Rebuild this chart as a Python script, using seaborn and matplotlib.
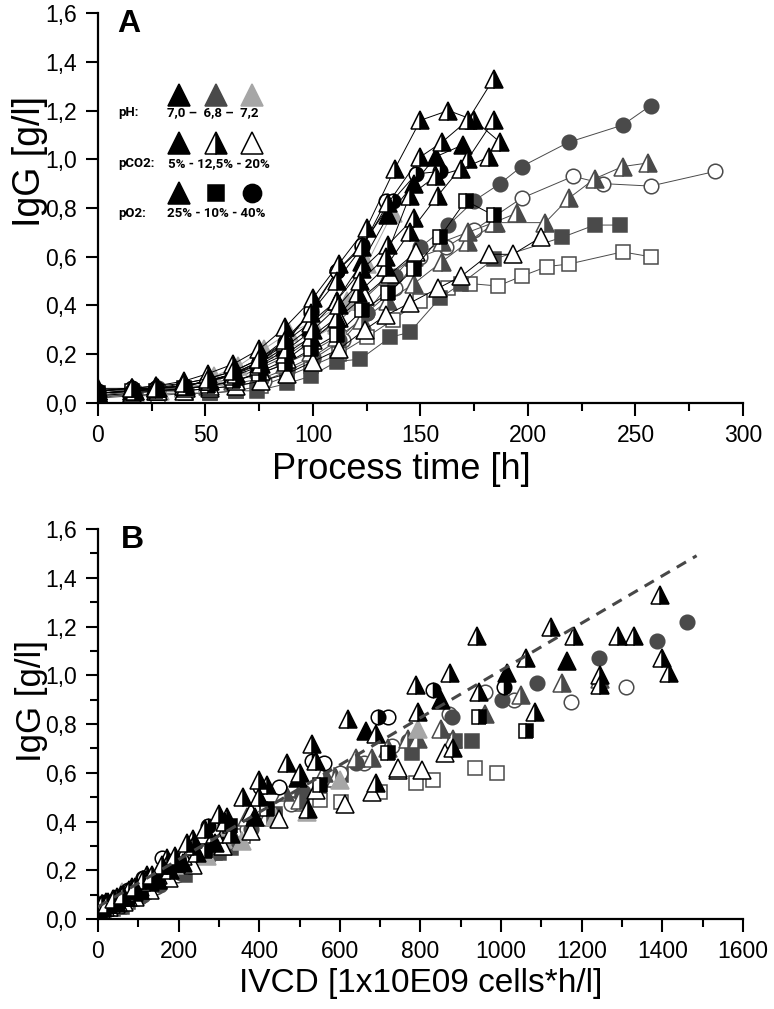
import matplotlib
matplotlib.use("Agg")
import matplotlib.pyplot as plt
from matplotlib.ticker import MultipleLocator, FuncFormatter, NullLocator
import seaborn as sns

# values
# time = process time [h], igg = IgG [g/l], ivcd = IVCD [1x10E09 cells*h/l]

# pH 7.0 / pCO2 12.5% / pO2 25% (center point replicates)
c1_time = [0, 16, 27, 40, 51, 63, 75, 87, 99, 111, 123, 135, 150, 160, 172, 184]
c1_igg = [0.05, 0.06, 0.06, 0.08, 0.10, 0.13, 0.18, 0.26, 0.37, 0.50, 0.64, 0.82, 1.01, 1.07, 1.16, 1.33]
c1_ivcd = [0, 10, 22, 40, 62, 92, 135, 190, 265, 360, 470, 620, 873, 1063, 1181, 1394]

c2_time = [0, 16, 27, 40, 51, 63, 75, 87, 100, 112, 125, 138, 150, 163, 175, 187]
c2_igg = [0.06, 0.06, 0.07, 0.09, 0.12, 0.16, 0.22, 0.31, 0.43, 0.57, 0.72, 0.96, 1.16, 1.20, 1.16, 1.07]
c2_ivcd = [0, 12, 26, 48, 76, 112, 160, 222, 300, 400, 530, 789, 939, 1125, 1291, 1398]

c3_time = [0, 17, 28, 41, 52, 64, 76, 88, 100, 112, 122, 134, 145, 157, 169, 182]
c3_igg = [0.04, 0.05, 0.06, 0.07, 0.09, 0.12, 0.16, 0.22, 0.30, 0.40, 0.50, 0.60, 0.85, 0.93, 0.96, 1.01]
c3_ivcd = [0, 9, 20, 36, 56, 84, 120, 170, 235, 315, 400, 500, 795, 946, 1245, 1417]

c4_time = [0, 16, 27, 40, 51, 63, 75, 87, 99, 111, 121, 134, 145, 158, 172, 184]
c4_igg = [0.05, 0.06, 0.06, 0.07, 0.09, 0.11, 0.15, 0.20, 0.27, 0.35, 0.45, 0.56, 0.70, 0.85, 1.00, 1.16]
c4_ivcd = [0, 10, 22, 40, 62, 90, 128, 178, 245, 330, 520, 690, 881, 1084, 1245, 1330]

c5_time = [0, 16, 27, 40, 51, 63, 75, 87, 99, 111, 123, 135, 147]
c5_igg = [0.05, 0.06, 0.07, 0.08, 0.10, 0.13, 0.18, 0.25, 0.33, 0.42, 0.55, 0.65, 0.76]
c5_ivcd = [0, 9, 20, 36, 56, 84, 122, 172, 235, 320, 420, 540, 690]

# pH 7.0 / 5% / 25%
f1_time = [0, 16, 27, 40, 51, 63, 75, 87, 99, 111, 123, 135, 147, 157, 170]
f1_igg = [0.05, 0.05, 0.06, 0.07, 0.09, 0.12, 0.16, 0.23, 0.31, 0.42, 0.58, 0.77, 0.90, 1.01, 1.06]
f1_ivcd = [0, 10, 24, 44, 70, 105, 150, 210, 290, 390, 497, 666, 850, 1014, 1163]

# pH 7.0 / 12.5% / 10%
hs_time = [0, 16, 27, 40, 51, 63, 75, 87, 99, 111, 123, 135, 147, 159, 171, 184]
hs_igg = [0.04, 0.05, 0.05, 0.06, 0.07, 0.09, 0.12, 0.16, 0.22, 0.28, 0.38, 0.45, 0.55, 0.68, 0.83, 0.77]
hs_ivcd = [0, 8, 18, 32, 50, 74, 106, 150, 200, 265, 328, 420, 551, 720, 946, 1063]

# pH 7.0 / 12.5% / 40%
hc_time = [0, 16, 27, 40, 51, 63, 75, 87, 99, 111, 123, 137, 148, 159]
hc_igg = [0.04, 0.05, 0.06, 0.07, 0.09, 0.12, 0.17, 0.24, 0.38, 0.54, 0.65, 0.83, 0.94, 0.95]
hc_ivcd = [0, 8, 18, 34, 54, 80, 114, 183, 274, 402, 530, 695, 832, 1007]

# pH 7.0 / 20% / 40%
oc7_time = [0, 16, 27, 40, 51, 63, 75, 87, 99, 111, 123, 134]
oc7_igg = [0.05, 0.06, 0.06, 0.07, 0.09, 0.12, 0.17, 0.25, 0.37, 0.54, 0.64, 0.83]
oc7_ivcd = [0, 8, 18, 32, 50, 75, 112, 160, 285, 450, 560, 720]

# pH 7.0 / 20% / 25%
ot1_time = [0, 16, 27, 40, 52, 64, 76, 88, 100, 112, 124, 134, 145, 158, 169, 182, 193, 206]
ot1_igg = [0.03, 0.04, 0.05, 0.05, 0.06, 0.07, 0.09, 0.12, 0.17, 0.22, 0.30, 0.36, 0.41, 0.47, 0.52, 0.61, 0.61, 0.68]
ot1_ivcd = [0, 7, 16, 28, 44, 64, 92, 128, 175, 235, 310, 380, 450, 613, 679, 745, 803, 861]

ot2_time = [0, 17, 28, 41, 52, 64, 76, 88, 100, 112, 124, 136, 148]
ot2_igg = [0.04, 0.05, 0.05, 0.06, 0.07, 0.09, 0.13, 0.18, 0.26, 0.35, 0.44, 0.53, 0.62]
ot2_ivcd = [0, 8, 18, 32, 50, 74, 105, 150, 210, 290, 380, 540, 745]

# pH 6.8 / 5% / 10%
sq_time = [0, 17, 28, 41, 52, 64, 74, 88, 99, 111, 122, 136, 145, 159, 169, 184, 216, 231, 243]
sq_igg = [0.03, 0.03, 0.04, 0.04, 0.04, 0.05, 0.05, 0.08, 0.11, 0.17, 0.18, 0.27, 0.29, 0.43, 0.49, 0.59, 0.68, 0.73, 0.73]
sq_ivcd = [0, 5, 12, 20, 30, 45, 60, 85, 115, 165, 215, 300, 330, 440, 505, 604, 780, 886, 929]

# pH 6.8 / 20% / 10%
osq_time = [0, 17, 28, 41, 52, 64, 76, 88, 99, 112, 125, 137, 150, 163, 173, 186, 197, 209, 219, 244, 257]
osq_igg = [0.02, 0.03, 0.03, 0.04, 0.04, 0.05, 0.07, 0.11, 0.15, 0.20, 0.27, 0.34, 0.42, 0.47, 0.49, 0.48, 0.52, 0.56, 0.57, 0.62, 0.60]
osq_ivcd = [0, 6, 14, 24, 36, 52, 75, 110, 150, 210, 290, 360, 440, 500, 551, 604, 700, 790, 832, 935, 989]

# pH 6.8 / 20% / 40%
oc_time = [0, 17, 28, 41, 52, 64, 77, 88, 100, 114, 125, 138, 150, 162, 175, 197, 221, 235, 257, 287]
oc_igg = [0.02, 0.04, 0.05, 0.05, 0.06, 0.07, 0.09, 0.13, 0.18, 0.26, 0.37, 0.47, 0.60, 0.64, 0.71, 0.84, 0.93, 0.90, 0.89, 0.95]
oc_ivcd = [0, 8, 18, 33, 52, 75, 105, 145, 195, 265, 370, 480, 600, 660, 730, 870, 960, 1033, 1173, 1309]

# pH 6.8 / 5% / 40%
ci_time = [0, 17, 28, 41, 52, 64, 76, 88, 100, 112, 125, 138, 150, 163, 175, 187, 197, 219, 244, 257]
ci_igg = [0.03, 0.05, 0.06, 0.06, 0.07, 0.08, 0.10, 0.14, 0.19, 0.26, 0.37, 0.52, 0.64, 0.73, 0.83, 0.90, 0.97, 1.07, 1.14, 1.22]
ci_ivcd = [0, 8, 18, 35, 55, 80, 112, 155, 205, 275, 380, 509, 640, 770, 877, 1001, 1088, 1243, 1386, 1460]

# pH 6.8 / 12.5% / 25%
ht_time = [0, 16, 27, 40, 51, 63, 75, 87, 99, 111, 123, 135, 147, 160, 172, 185, 208, 219, 231, 244, 256]
ht_igg = [0.03, 0.05, 0.05, 0.06, 0.07, 0.09, 0.12, 0.16, 0.21, 0.27, 0.34, 0.42, 0.49, 0.58, 0.66, 0.74, 0.74, 0.84, 0.92, 0.97, 0.985]
ht_ivcd = [0, 8, 18, 32, 50, 74, 105, 148, 200, 260, 335, 420, 500, 590, 680, 770, 880, 960, 1050, 1150, 1245]

ht2_time = [0, 16, 27, 40, 51, 63, 75, 87, 99, 111, 123, 135, 147, 160, 172, 184, 195]
ht2_igg = [0.04, 0.05, 0.06, 0.06, 0.08, 0.10, 0.14, 0.19, 0.26, 0.33, 0.42, 0.52, 0.60, 0.66, 0.70, 0.74, 0.78]
ht2_ivcd = [0, 8, 18, 33, 52, 78, 110, 155, 215, 285, 370, 465, 560, 640, 720, 795, 850]

# pH 7.2 / 5% / 25%
lg1_time = [0, 17, 29, 41, 54, 65, 77, 89, 100, 116, 125, 137]
lg1_igg = [0.03, 0.04, 0.05, 0.06, 0.11, 0.15, 0.22, 0.29, 0.33, 0.42, 0.57, 0.78]
lg1_ivcd = [0, 10, 22, 38, 60, 100, 160, 245, 310, 440, 600, 795]

lg2_time = [0, 16, 27, 40, 51, 63, 75, 87, 99, 111, 123]
lg2_igg = [0.03, 0.04, 0.05, 0.06, 0.08, 0.12, 0.17, 0.22, 0.26, 0.32, 0.44]
lg2_ivcd = [0, 9, 20, 35, 55, 85, 125, 200, 270, 357, 518]

# dashed linear fit in panel B
fit_intercept = 0.05
fit_slope = 0.00097
fit_ivcd = [0, 1485]

# (pH, pCO2, pO2, time, igg, ivcd)
runs = [
    ("6.8", "20", "10", osq_time, osq_igg, osq_ivcd),
    ("6.8", "5", "10", sq_time, sq_igg, sq_ivcd),
    ("6.8", "20", "40", oc_time, oc_igg, oc_ivcd),
    ("6.8", "5", "40", ci_time, ci_igg, ci_ivcd),
    ("6.8", "12.5", "25", ht_time, ht_igg, ht_ivcd),
    ("6.8", "12.5", "25", ht2_time, ht2_igg, ht2_ivcd),
    ("7.2", "5", "25", lg1_time, lg1_igg, lg1_ivcd),
    ("7.2", "5", "25", lg2_time, lg2_igg, lg2_ivcd),
    ("7.0", "20", "25", ot1_time, ot1_igg, ot1_ivcd),
    ("7.0", "20", "25", ot2_time, ot2_igg, ot2_ivcd),
    ("7.0", "20", "40", oc7_time, oc7_igg, oc7_ivcd),
    ("7.0", "12.5", "10", hs_time, hs_igg, hs_ivcd),
    ("7.0", "12.5", "40", hc_time, hc_igg, hc_ivcd),
    ("7.0", "5", "25", f1_time, f1_igg, f1_ivcd),
    ("7.0", "12.5", "25", c5_time, c5_igg, c5_ivcd),
    ("7.0", "12.5", "25", c4_time, c4_igg, c4_ivcd),
    ("7.0", "12.5", "25", c3_time, c3_igg, c3_ivcd),
    ("7.0", "12.5", "25", c2_time, c2_igg, c2_ivcd),
    ("7.0", "12.5", "25", c1_time, c1_igg, c1_ivcd),
]

PH_COLOR = {"7.0": "#000000", "6.8": "#4a4a4a", "7.2": "#a6a6a6"}
O2_MARKER = {"25": "^", "10": "s", "40": "o"}
O2_SIZE = {"25": 13, "10": 9.5, "40": 10.5}


def marker_kws(ph, co2, o2, scale=1.0):
    color = PH_COLOR[ph]
    kw = dict(marker=O2_MARKER[o2], markersize=O2_SIZE[o2] * scale,
              markeredgecolor=color, markeredgewidth=1.1)
    if co2 == "5":
        kw.update(fillstyle="full", markerfacecolor=color)
    elif co2 == "12.5":
        kw.update(fillstyle="right", markerfacecolor=color, markerfacecoloralt="white")
    else:
        kw.update(fillstyle="full", markerfacecolor="white")
    return kw


sns.set_style("ticks")
plt.rcParams["font.family"] = ["Liberation Sans", "DejaVu Sans"]
plt.rcParams["text.color"] = "black"
plt.rcParams["axes.labelcolor"] = "black"

fig = plt.figure(figsize=(7.74, 10.09), dpi=100)
ax_a = fig.add_axes([0.1266, 0.6006, 0.8333, 0.3865])
ax_b = fig.add_axes([0.1266, 0.0892, 0.8333, 0.3865])

# panel A: IgG over process time
for ph, co2, o2, t, igg, ivcd in runs:
    sns.lineplot(x=t, y=igg, ax=ax_a, color=PH_COLOR[ph], lw=0.7,
                 estimator=None, sort=False, errorbar=None, legend=False,
                 **marker_kws(ph, co2, o2))

# panel B: IgG over IVCD
for ph, co2, o2, t, igg, ivcd in runs:
    sns.lineplot(x=ivcd, y=igg, ax=ax_b, color=PH_COLOR[ph], linestyle="",
                 estimator=None, sort=False, errorbar=None, legend=False,
                 **marker_kws(ph, co2, o2))

fit_igg = [fit_intercept + fit_slope * x for x in fit_ivcd]
sns.lineplot(x=fit_ivcd, y=fit_igg, ax=ax_b, color="#474747", lw=2.2,
             linestyle=(0, (3.5, 2.6)), estimator=None, errorbar=None, legend=False, zorder=5)

comma = FuncFormatter(lambda v, pos: f"{v:.1f}".replace(".", ","))

for ax in (ax_a, ax_b):
    sns.despine(ax=ax)
    for side in ("left", "bottom"):
        ax.spines[side].set_linewidth(1.6)
        ax.spines[side].set_color("black")
    ax.set_ylim(0, 1.6)
    ax.yaxis.set_major_locator(MultipleLocator(0.2))
    ax.yaxis.set_major_formatter(comma)
    ax.tick_params(which="major", length=9, width=1.5, labelsize=16.5, pad=6, colors="black")
    ax.tick_params(which="minor", length=5.5, width=1.5, colors="black")
    ax.grid(False)

ax_a.set_xlim(0, 300)
ax_a.xaxis.set_major_locator(MultipleLocator(50))
ax_a.xaxis.set_minor_locator(MultipleLocator(25))
ax_a.yaxis.set_minor_locator(NullLocator())
ax_a.set_xlabel("Process time [h]", fontsize=26)
ax_a.xaxis.set_label_coords(0.47, -0.125)
ax_a.set_ylabel("IgG [g/l]", fontsize=27)
ax_a.yaxis.set_label_coords(-0.078, 0.62)

ax_b.set_xlim(0, 1600)
ax_b.xaxis.set_major_locator(MultipleLocator(200))
ax_b.xaxis.set_minor_locator(MultipleLocator(100))
ax_b.yaxis.set_minor_locator(MultipleLocator(0.1))
ax_b.set_xlabel("IVCD [1x10E09 cells*h/l]", fontsize=24, labelpad=4)
ax_b.set_ylabel("IgG [g/l]", fontsize=25)
ax_b.yaxis.set_label_coords(-0.078, 0.56)

ax_a.text(0.03, 1.01, "A", transform=ax_a.transAxes, fontsize=23, fontweight="bold", va="top")
ax_b.text(0.035, 1.01, "B", transform=ax_b.transAxes, fontsize=23, fontweight="bold", va="top")

# inset key in panel A
key_font = ["Roboto", "DejaVu Sans"]
key_x = [0.1256, 0.183, 0.239]
key_rows = [
    (0.790, 0.744, "pH:", "7,0 \u2013  6,8 \u2013  7,2", 0.178,
     [("7.0", "5", "25"), ("6.8", "5", "25"), ("7.2", "5", "25")]),
    (0.667, 0.615, "pCO2:", "5% - 12,5% - 20%", 0.188,
     [("7.0", "5", "25"), ("7.0", "12.5", "25"), ("7.0", "20", "25")]),
    (0.538, 0.487, "pO2:", "25% - 10% - 40%", 0.183,
     [("7.0", "5", "25"), ("7.0", "5", "10"), ("7.0", "5", "40")]),
]
for my, ty, label, vals, vx, combos in key_rows:
    for kx, (ph, co2, o2) in zip(key_x, combos):
        ax_a.plot([kx], [my], transform=ax_a.transAxes, clip_on=False, linestyle="",
                  **marker_kws(ph, co2, o2, scale=1.25))
    ax_a.text(0.031, ty, label, transform=ax_a.transAxes, fontsize=9.5, fontweight="bold",
              family=key_font, va="center", ha="left")
    ax_a.text(vx, ty, vals, transform=ax_a.transAxes, fontsize=9.5, fontweight="bold",
              family=key_font, va="center", ha="center")

fig.savefig("out.png", dpi=100)
